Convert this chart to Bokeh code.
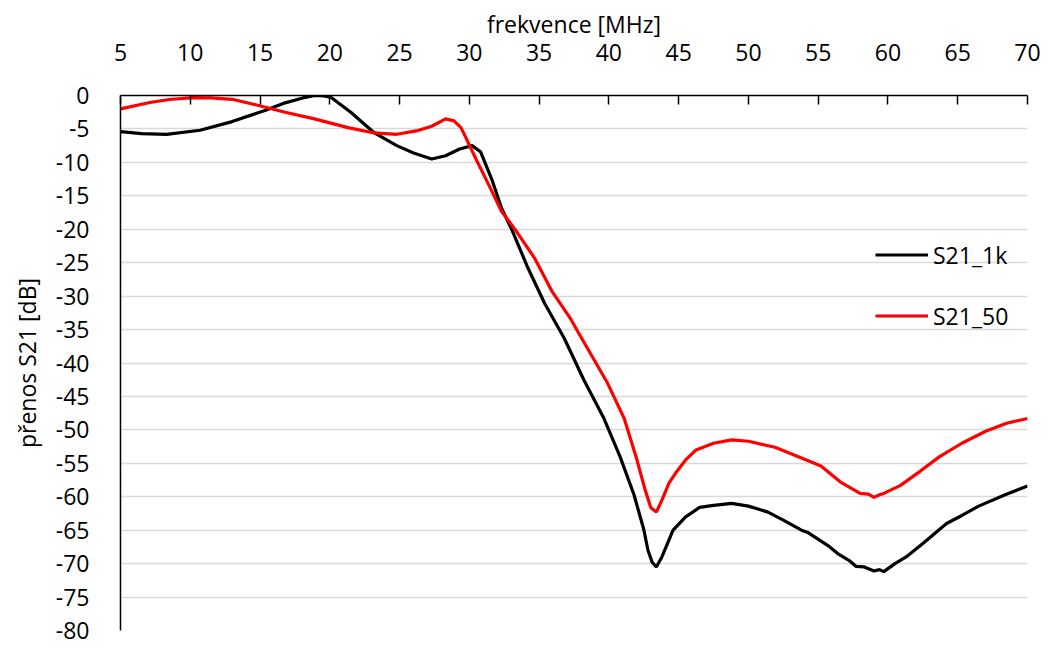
from bokeh.plotting import figure
from bokeh.models import (Range1d, LinearAxis, SingleIntervalTicker, Legend, LegendItem,
                          CustomJSTickFormatter)
from bokeh.embed import file_html
from bokeh.resources import INLINE

# --- data ---
f_1k = [5, 6.5, 8.3, 10.7, 13.0, 15.4, 16.8, 18.0, 18.9, 19.6, 20.1, 21.5, 23.2, 24.8, 26.0,
        27.3, 28.3, 29.3, 30.2, 30.8, 31.6, 32.3, 33.05, 34.2, 35.4, 36.8, 38.2, 39.65, 40.8,
        41.8, 42.5, 42.8, 43.1, 43.4, 43.8, 44.6, 45.5, 46.5, 47.5, 48.8, 50.0, 51.4, 52.5,
        53.8, 54.3, 55.7, 56.4, 57.2, 57.7, 58.3, 59.0, 59.4, 59.7, 60.5, 61.3, 62.5, 64.2,
        65.3, 66.5, 68.4, 70.0]
s21_1k = [-5.4, -5.7, -5.8, -5.2, -3.9, -2.2, -1.1, -0.4, 0.0, -0.05, -0.3, -2.5, -5.6, -7.5, -8.6,
          -9.5, -9.0, -8.0, -7.5, -8.4, -12.5, -16.8, -20.1, -25.8, -31.1, -36.3, -42.5, -48.3, -54.0,
          -59.7, -64.9, -68.0, -69.8, -70.5, -69.0, -65.0, -63.0, -61.6, -61.3, -61.0, -61.4, -62.3, -63.5,
          -65.0, -65.4, -67.3, -68.5, -69.5, -70.4, -70.5, -71.1, -70.9, -71.2, -70.0, -69.0, -67.0, -64.0,
          -62.8, -61.4, -59.7, -58.4]

f_50 = [5, 7.1, 8.5, 10.2, 11.5, 13.0, 14.9, 16.8, 18.9, 21.3, 23.2, 24.8, 26.2, 27.3, 28.3,
        28.9, 29.4, 29.75, 30.5, 31.4, 32.3, 33.3, 34.7, 35.9, 37.2, 37.8, 39.9, 41.1, 42.0,
        42.6, 43.0, 43.4, 43.8, 44.3, 44.8, 45.5, 46.25, 47.5, 48.8, 50.0, 51.9, 53.8, 55.2,
        56.6, 58.0, 58.6, 59.0, 59.4, 59.7, 60.9, 62.3, 63.7, 65.3, 67.0, 68.5, 70.0]
s21_50 = [-2.0, -1.05, -0.6, -0.33, -0.35, -0.57, -1.5, -2.5, -3.5, -4.8, -5.6, -5.8, -5.3, -4.6, -3.5,
          -3.8, -4.8, -6.3, -9.6, -13.4, -17.3, -20.1, -24.4, -29.2, -33.2, -35.4, -43.0, -48.3, -54.4,
          -59.0, -61.6, -62.3, -60.5, -58.0, -56.4, -54.5, -53.0, -52.0, -51.5, -51.7, -52.6, -54.2, -55.4,
          -57.8, -59.5, -59.6, -60.1, -59.7, -59.5, -58.3, -56.2, -54.0, -52.0, -50.2, -49.0, -48.3]

series_names = ["S21_1k", "S21_50"]
series_colors = ["#000000", "#ff0000"]
x_title = "frekvence [MHz]"
y_title = "přenos S21 [dB]"

FONT = "Open Sans"
plain = CustomJSTickFormatter(code="return tick.toString();")

p = figure(width=1041, height=647, output_backend="svg", toolbar_location=None,
           x_range=Range1d(5, 70), y_range=Range1d(-80, 0),
           x_axis_location=None, y_axis_location=None,
           min_border_left=120, min_border_right=14, min_border_top=95, min_border_bottom=17)
p.outline_line_color = None
p.background_fill_color = "white"

# top x axis
xa = LinearAxis(ticker=SingleIntervalTicker(interval=5), axis_label=x_title, formatter=plain)
xa.axis_line_color = "black"
xa.axis_line_width = 1.5
xa.major_tick_in = 9
xa.major_tick_out = 0
xa.major_tick_line_color = "black"
xa.major_tick_line_width = 1.5
xa.minor_tick_line_color = None
xa.major_label_standoff = 31
xa.major_label_text_font = FONT
xa.major_label_text_font_size = "23px"
xa.major_label_text_color = "black"
xa.axis_label_text_font = FONT
xa.axis_label_text_font_size = "23px"
xa.axis_label_text_font_style = "normal"
xa.axis_label_text_color = "black"
xa.axis_label_standoff = 1
p.add_layout(xa, "above")

# left y axis
ya = LinearAxis(ticker=SingleIntervalTicker(interval=5), axis_label=y_title, formatter=plain)
ya.axis_line_color = "black"
ya.axis_line_width = 1.5
ya.major_tick_in = 0
ya.major_tick_out = 0
ya.minor_tick_line_color = None
ya.major_label_standoff = 27
ya.major_label_text_font = FONT
ya.major_label_text_font_size = "23px"
ya.major_label_text_color = "black"
ya.axis_label_text_font = FONT
ya.axis_label_text_font_size = "23px"
ya.axis_label_text_font_style = "normal"
ya.axis_label_text_color = "black"
ya.axis_label_standoff = 10
p.add_layout(ya, "left")

p.xgrid.grid_line_color = None
p.ygrid.ticker = SingleIntervalTicker(interval=5)
p.ygrid.grid_line_color = "#d9d9d9"
p.ygrid.grid_line_width = 1.5

r1 = p.line(f_1k, s21_1k, line_color=series_colors[0], line_width=3.2)
r2 = p.line(f_50, s21_50, line_color=series_colors[1], line_width=3.2)

legend = Legend(items=[LegendItem(label=series_names[0], renderers=[r1]),
                       LegendItem(label=series_names[1], renderers=[r2])],
                location=(755, 284), orientation="vertical")
legend.padding = 0
legend.margin = 0
legend.spacing = 0
legend.border_line_color = None
legend.background_fill_alpha = 0
legend.glyph_width = 53
legend.glyph_height = 61
legend.label_height = 61
legend.label_standoff = 5
legend.label_text_font = FONT
legend.label_text_font_size = "23px"
legend.label_text_color = "black"
p.add_layout(legend, "center")

open("out.html", "w").write(file_html(p, INLINE))
